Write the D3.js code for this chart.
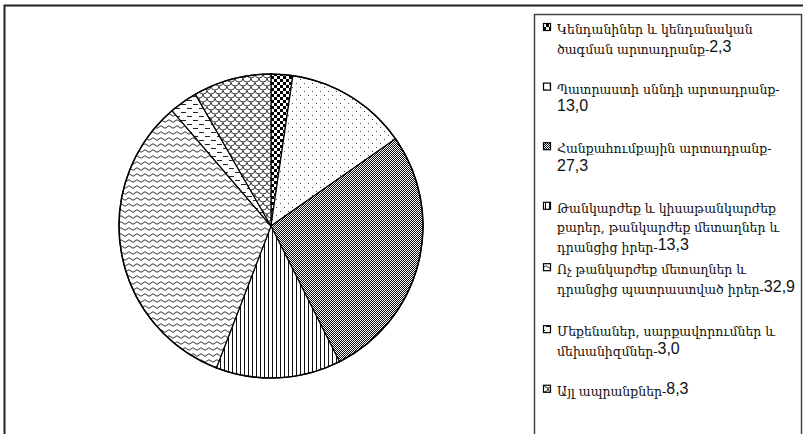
<!DOCTYPE html>
<html>
<head>
<meta charset="utf-8">
<script src="https://cdn.jsdelivr.net/npm/d3@7"></script>
<style>
  body { margin: 0; background: #fff; }
  svg { display: block; }
  .leg text { font-family: "DejaVu Serif", serif; font-size: 12.5px; fill: #111; }
  .leg .num { font-family: "Liberation Sans", Arial, sans-serif; font-size: 16px; }
</style>
</head>
<body>
<svg width="803" height="434"></svg>
<script>
// data
var categories = [
  "Կենդանիներ և կենդանական\nծագման արտադրանք-",
  "Պատրաստի սննդի արտադրանք-\n",
  "Հանքահումքային  արտադրանք-\n",
  "Թանկարժեք և կիսաթանկարժեք\nքարեր, թանկարժեք մետաղներ և\nդրանցից իրեր-",
  "Ոչ թանկարժեք մետաղներ և\nդրանցից  պատրաստված իրեր-",
  "Մեքենաներ, սարքավորումներ և\nմեխանիզմներ-",
  "Այլ ապրանքներ-"
];
var values = [2.3, 13.0, 27.3, 13.3, 32.9, 3.0, 8.3];

var svg = d3.select("svg");
var defs = svg.append("defs");

// hatch patterns, one per slice
var pats = [
  function(p) { p.attr("width", 6).attr("height", 6);
    p.append("rect").attr("width", 6).attr("height", 6).attr("fill", "#fff");
    p.append("rect").attr("width", 3).attr("height", 3).attr("fill", "#000");
    p.append("rect").attr("x", 3).attr("y", 3).attr("width", 3).attr("height", 3).attr("fill", "#000"); },
  function(p) { p.attr("width", 8).attr("height", 8);
    p.append("rect").attr("width", 8).attr("height", 8).attr("fill", "#fff");
    p.append("rect").attr("x", 1).attr("y", 1).attr("width", 1).attr("height", 1).attr("fill", "#444");
    p.append("rect").attr("x", 5).attr("y", 5).attr("width", 1).attr("height", 1).attr("fill", "#444"); },
  function(p) { p.attr("width", 2).attr("height", 2);
    p.append("rect").attr("width", 2).attr("height", 2).attr("fill", "#fff");
    p.append("rect").attr("width", 1).attr("height", 1).attr("fill", "#111");
    p.append("rect").attr("x", 1).attr("y", 1).attr("width", 1).attr("height", 1).attr("fill", "#111"); },
  function(p) { p.attr("width", 4).attr("height", 4);
    p.append("rect").attr("width", 4).attr("height", 4).attr("fill", "#fff");
    p.append("rect").attr("x", 1).attr("width", 1).attr("height", 4).attr("fill", "#111"); },
  function(p) { p.attr("width", 8).attr("height", 6);
    p.append("rect").attr("width", 8).attr("height", 6).attr("fill", "#fff");
    p.append("path").attr("d", "M0,3 Q2,0.5 4,3 T8,3").attr("fill", "none").attr("stroke", "#333").attr("stroke-width", 1); },
  function(p) { p.attr("width", 12).attr("height", 8);
    p.append("rect").attr("width", 12).attr("height", 8).attr("fill", "#fff");
    p.append("rect").attr("x", 0).attr("y", 2).attr("width", 5).attr("height", 1).attr("fill", "#222");
    p.append("rect").attr("x", 6).attr("y", 6).attr("width", 5).attr("height", 1).attr("fill", "#222"); },
  function(p) { p.attr("width", 8).attr("height", 8);
    p.append("rect").attr("width", 8).attr("height", 8).attr("fill", "#fff");
    p.append("path").attr("d", "M0,0 A4,4 0 0 0 8,0 M-4,4 A4,4 0 0 0 4,4 M4,4 A4,4 0 0 0 12,4 M0,8 A4,4 0 0 0 8,8")
      .attr("fill", "none").attr("stroke", "#444").attr("stroke-width", 1); }
];
pats.forEach(function(f, i) {
  var p = defs.append("pattern").attr("id", "pat" + i).attr("patternUnits", "userSpaceOnUse");
  f(p);
});

// outer frame
svg.append("path").attr("d", "M4.5,434 V5.5 H803").attr("fill", "none").attr("stroke", "#222").attr("stroke-width", 2);

// pie
var cx = 271, cy = 226, r = 152;
var pie = d3.pie().sort(null).value(function(d) { return d; });
var arc = d3.arc().innerRadius(0).outerRadius(r);
var g = svg.append("g").attr("transform", "translate(" + cx + "," + cy + ")");
g.selectAll("path")
  .data(pie(values))
  .enter().append("path")
  .attr("d", arc)
  .attr("fill", function(d, i) { return "url(#pat" + i + ")"; })
  .attr("stroke", "#000")
  .attr("stroke-width", 1.2);
g.append("circle").attr("r", r).attr("fill", "none").attr("stroke", "#000").attr("stroke-width", 1.5);

// legend
svg.append("rect").attr("x", 534.5).attr("y", 14.5).attr("width", 267).attr("height", 440)
  .attr("fill", "#fff").attr("stroke", "#444").attr("stroke-width", 1.5);

var fmt = function(v) { return v.toFixed(1).replace(".", ","); };
var leg = svg.append("g").attr("class", "leg");
var starts = [0, 1, 2, 3, 4.03, 5.07, 6.07];
categories.forEach(function(c, i) {
  var y0 = 29 + starts[i] * 59.6;
  leg.append("rect").attr("x", 543.5).attr("y", y0 - 5.5).attr("width", 7).attr("height", 7)
    .attr("fill", "url(#pat" + i + ")").attr("stroke", "#000").attr("stroke-width", 1.2);
  var lines = c.split("\n");
  lines.forEach(function(l, k) {
    var t = leg.append("text").attr("x", 557).attr("y", y0 + 5 + k * 19.5);
    t.append("tspan").text(l);
    if (k == lines.length - 1) t.append("tspan").attr("class", "num").attr("dy", -2).text(fmt(values[i]));
  });
});
</script>
</body>
</html>
